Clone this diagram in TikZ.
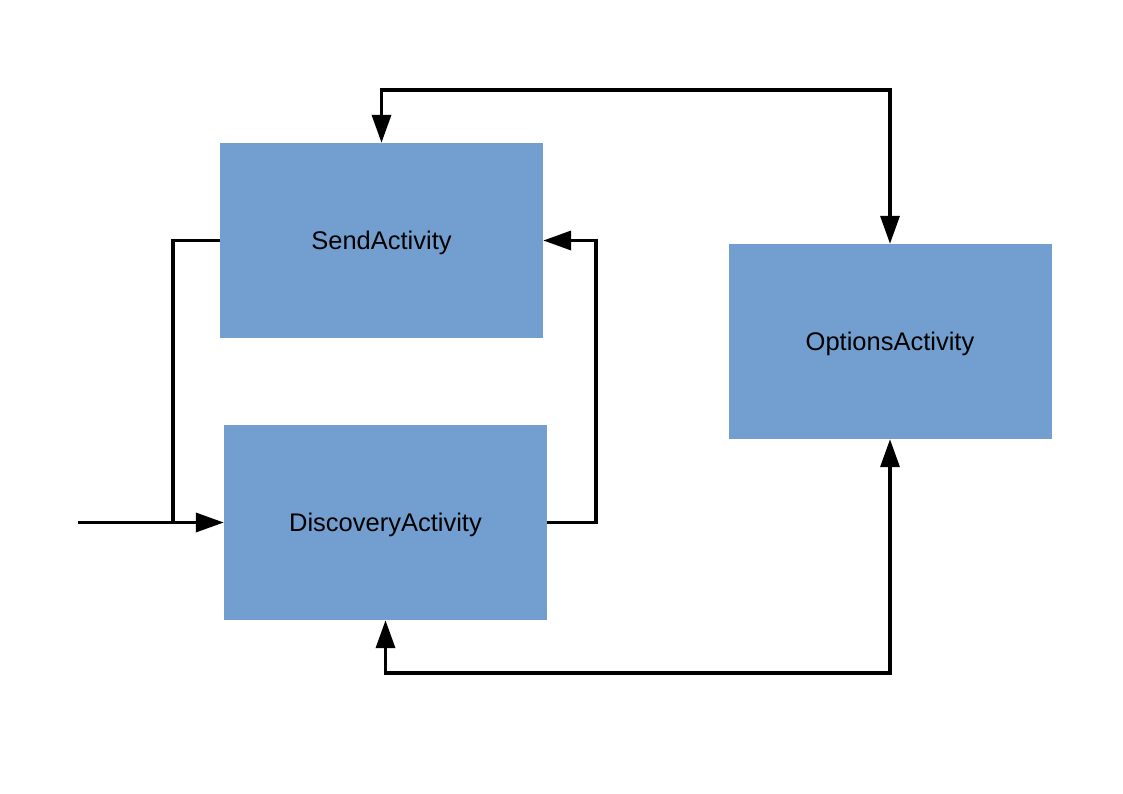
\documentclass[tikz,border=0pt]{standalone}
\usepackage{fontspec}
\setmainfont{Liberation Sans}
\usetikzlibrary{arrows.meta}
\definecolor{boxblue}{HTML}{729FCF}
\begin{document}
\begin{tikzpicture}[x=1pt,y=-1pt,
  actbox/.style={fill=boxblue,draw=none,minimum width=323pt,minimum height=195pt,inner sep=0pt,text depth=0pt,font=\fontsize{25.5}{30}\selectfont},
  conn/.style={line width=3.5pt,line join=miter},
  tip/.tip={Triangle[length=28pt,width=19pt]}]
\useasboundingbox (0,0) rectangle (1123,794);
\node[actbox] (send) at (381.5,240.5) {SendActivity};
\node[actbox] (disc) at (385.5,522.5) {DiscoveryActivity};
\node[actbox] (opt) at (890,341.5) {OptionsActivity};
\coordinate (topY) at (0,90);
\coordinate (botY) at (0,673);
\coordinate (leftX) at (173,0);
\coordinate (rightX) at (596,0);
\coordinate (in) at (78,522.5);
\draw[conn,tip-tip] (send.north) -- (send.north |- topY) -| (opt.north);
\draw[conn,tip-tip] (disc.south) -- (disc.south |- botY) -| (opt.south);
\draw[conn,-tip] (disc.east) -- (rightX |- disc.east) |- (send.east);
\draw[conn,-tip] (send.west) -- (leftX |- send.west) |- (disc.west);
\draw[conn] (in) -- (leftX |- disc.west);
\end{tikzpicture}
\end{document}
